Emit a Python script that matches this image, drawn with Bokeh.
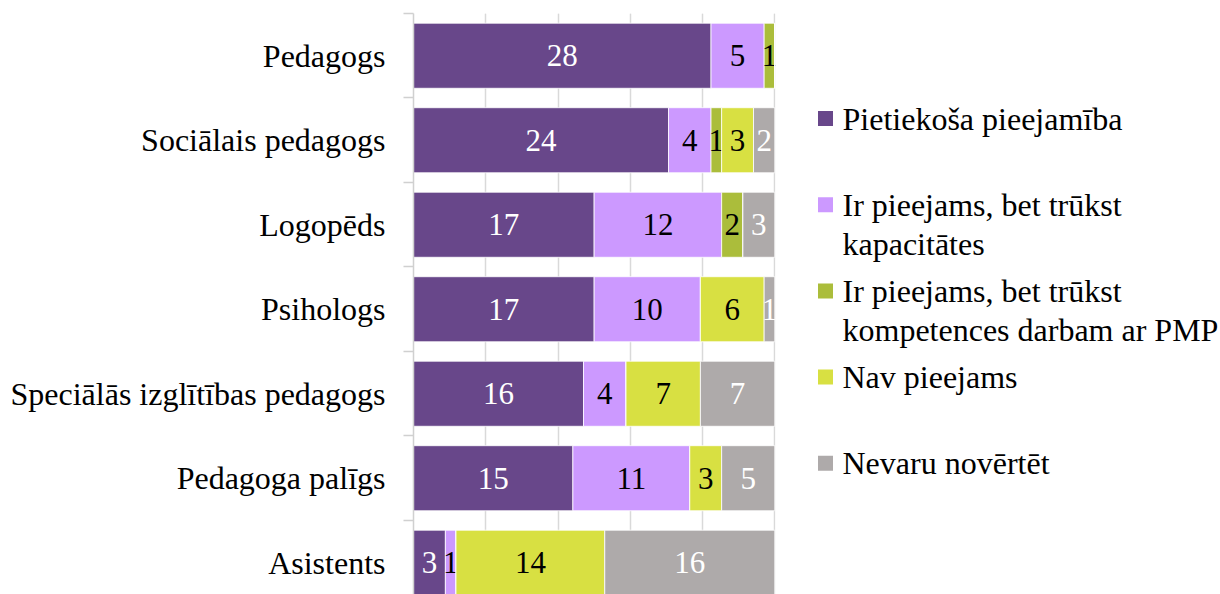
from bokeh.plotting import figure
from bokeh.models import ColumnDataSource, FixedTicker, Grid, Range1d
from bokeh.layouts import row
from bokeh.core.properties import value
from bokeh.embed import file_html
from bokeh.resources import INLINE

categories = ["Pedagogs", "Sociālais pedagogs", "Logopēds", "Psihologs",
              "Speciālās izglītības pedagogs", "Pedagoga palīgs", "Asistents"]
series_names = ["Pietiekoša pieejamība",
                "Ir pieejams, bet trūkst\nkapacitātes",
                "Ir pieejams, bet trūkst\nkompetences darbam ar PMP",
                "Nav pieejams",
                "Nevaru novērtēt"]
pietiekosa = [28, 24, 17, 17, 16, 15, 3]
kapacitate = [5, 4, 12, 10, 4, 11, 1]
kompetence = [1, 1, 2, 0, 0, 0, 0]
nav_pieejams = [0, 3, 0, 6, 7, 3, 14]
nevaru = [0, 2, 3, 1, 7, 5, 16]
series_values = [pietiekosa, kapacitate, kompetence, nav_pieejams, nevaru]
colors = ["#68478a", "#cc99ff", "#abbd3b", "#d8e042", "#aeaaaa"]
label_colors = ["white", "black", "black", "black", "white"]
grid_ticks = [20, 40, 60, 80, 100]

FONT = "'Liberation Serif', 'Times New Roman', serif"
n = len(categories)
ypos = [n - 1 - i for i in range(n)]
totals = [sum(s[i] for s in series_values) for i in range(n)]

p = figure(width=780, height=594, output_backend="svg", toolbar_location=None,
           x_range=Range1d(0, 100.2), y_range=Range1d(-0.376, n - 0.5),
           x_axis_location=None, min_border_left=413, min_border_right=5,
           min_border_top=13, min_border_bottom=0)
p.outline_line_color = None
p.ygrid.visible = False
p.add_layout(Grid(dimension=0, ticker=FixedTicker(ticks=grid_ticks),
                  grid_line_color="#d9d9d9", grid_line_width=1.5))

cum = [0.0] * n
for k, vals in enumerate(series_values):
    left = [cum[i] for i in range(n)]
    right = [cum[i] + vals[i] / totals[i] * 100 for i in range(n)]
    src = ColumnDataSource(dict(y=ypos, left=left, right=right))
    p.hbar(y="y", left="left", right="right", height=0.77, source=src,
           fill_color=colors[k], line_color="white", line_width=0.8)
    lab = dict(x=[], y=[], t=[])
    for i in range(n):
        if vals[i] > 0:
            lab["x"].append((left[i] + right[i]) / 2)
            lab["y"].append(ypos[i])
            lab["t"].append(str(vals[i]))
    p.text(x="x", y="y", text="t", source=ColumnDataSource(lab),
           text_font=value(FONT), text_font_size="31px",
           text_color=label_colors[k], text_align="center", text_baseline="middle")
    cum = right

ax = p.yaxis[0]
ax.ticker = FixedTicker(ticks=ypos, minor_ticks=[i - 0.5 for i in range(n + 1)])
ax.major_label_overrides = {ypos[i]: categories[i] for i in range(n)}
ax.major_label_text_font = FONT
ax.major_label_text_font_size = "32px"
ax.major_label_text_color = "black"
ax.major_tick_line_color = None
ax.major_tick_out = 0
ax.major_tick_in = 0
ax.minor_tick_out = 10
ax.minor_tick_in = 0
ax.minor_tick_line_color = "#d0d0d0"
ax.minor_tick_line_width = 1.5
ax.axis_line_color = "#d0d0d0"
ax.axis_line_width = 1.5
ax.major_label_standoff = 18

# legend panel (frame is aligned with the main frame: page y 13..594)
LW = 440
lg = figure(width=LW, height=594, output_backend="svg", toolbar_location=None,
            x_range=Range1d(0, LW), y_range=Range1d(594, 13),
            x_axis_location=None, y_axis_location=None,
            min_border_left=0, min_border_right=0,
            min_border_top=13, min_border_bottom=0)
lg.outline_line_color = None
lg.xgrid.visible = False
lg.ygrid.visible = False
sq_y = [118 + 86.2 * i for i in range(len(series_names))]
lg.scatter(x=[45] * len(series_names), y=sq_y, marker="square", size=15,
           fill_color=colors, line_color=None)
lg.text(x=[62] * len(series_names), y=[v - 18 for v in sq_y], text=series_names,
        text_font=value(FONT), text_font_size="32px", text_color="black",
        text_align="left", text_baseline="top", text_line_height=1.1)

layout = row(p, lg)
open("out.html", "w").write(file_html(layout, INLINE))
